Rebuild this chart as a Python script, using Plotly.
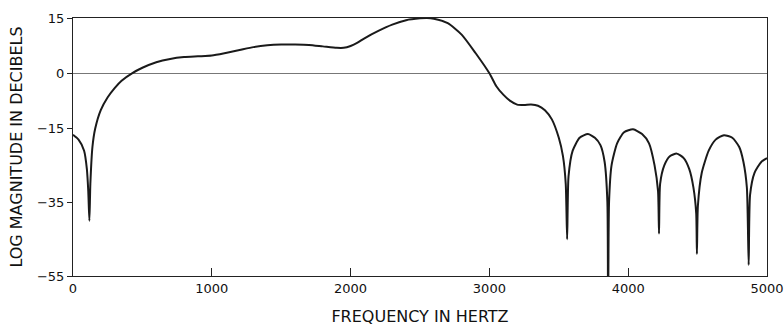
import plotly.graph_objects as go

freq_hz = [0, 40, 80, 100, 110, 118, 125, 140, 160, 200, 250, 300, 350, 425, 500, 600, 700, 800, 900,
           1000, 1100, 1200, 1300, 1400, 1500, 1600, 1700, 1800, 1900, 1950, 2000, 2050, 2100, 2200,
           2300, 2400, 2500, 2550, 2600, 2700, 2800, 2900, 3000, 3050, 3100, 3150, 3200, 3250, 3300,
           3350, 3400, 3450, 3500, 3530, 3550, 3560, 3570, 3600, 3650, 3710, 3760, 3800, 3830, 3850,
           3855, 3862, 3880, 3920, 3970, 4035, 4100, 4150, 4190, 4215, 4222, 4230, 4260, 4300, 4350,
           4400, 4440, 4470, 4490, 4495, 4502, 4530, 4580, 4630, 4690, 4750, 4800, 4830, 4855, 4868,
           4878, 4910, 4960, 5000]
magnitude_db = [-16.7, -18, -21, -26, -32, -40, -30, -20, -15, -10, -6.5, -4, -2, 0, 1.5, 3, 3.9, 4.4, 4.6,
                4.8, 5.5, 6.3, 7.1, 7.6, 7.8, 7.8, 7.7, 7.3, 6.9, 6.9, 7.4, 8.3, 9.5, 11.5,
                13.2, 14.4, 14.9, 15, 14.8, 13.6, 10.5, 5.5, 0, -3.5, -5.8, -7.5, -8.5, -8.6, -8.5,
                -8.8, -10, -12.5, -17.5, -22.5, -30, -45, -28, -21, -17.5, -16.5, -17.5, -19.5, -24, -35,
                -70, -35, -25, -19, -16, -15.2, -16.5, -19, -25, -32, -43.5, -30, -25, -22.5, -21.8,
                -23, -26, -31, -38, -49, -36, -27, -21, -18, -16.8, -17.5, -20, -24, -31, -52,
                -33, -27, -24, -23]

x_ticks = [0, 1000, 2000, 3000, 4000, 5000]
y_ticks = [15, 0, -15, -35, -55]

fig = go.Figure()
fig.add_trace(go.Scatter(x=freq_hz, y=magnitude_db, mode="lines",
                         line=dict(color="#1a1a1a", width=2, shape="spline", smoothing=0.6),
                         showlegend=False))

tick_font = dict(family="DejaVu Sans, sans-serif", size=13, color="#111")
title_font = dict(family="DejaVu Sans, sans-serif", size=16, color="#111")
fig.update_layout(
    width=784, height=326,
    margin=dict(l=73, r=17, t=18, b=50),
    paper_bgcolor="white", plot_bgcolor="white",
    font=tick_font,
    xaxis=dict(range=[0, 5000], tickvals=x_ticks, ticktext=[str(v) for v in x_ticks],
               showgrid=False, zeroline=False, showline=True, mirror=True, automargin=False,
               linecolor="#222", linewidth=1, ticks="inside", ticklen=8, tickcolor="#222",
               tickfont=tick_font,
               title=dict(text="FREQUENCY IN HERTZ", standoff=17, font=title_font)),
    yaxis=dict(range=[-55, 15], tickvals=y_ticks, showgrid=False, automargin=False,
               zeroline=True, zerolinecolor="#777", zerolinewidth=1,
               showline=True, mirror=True, linecolor="#222", linewidth=1,
               ticks="outside", ticklen=5, tickcolor="#222",
               tickfont=tick_font,
               title=dict(text="LOG MAGNITUDE IN DECIBELS", standoff=10, font=title_font)),
)
fig.write_html("out.html")
